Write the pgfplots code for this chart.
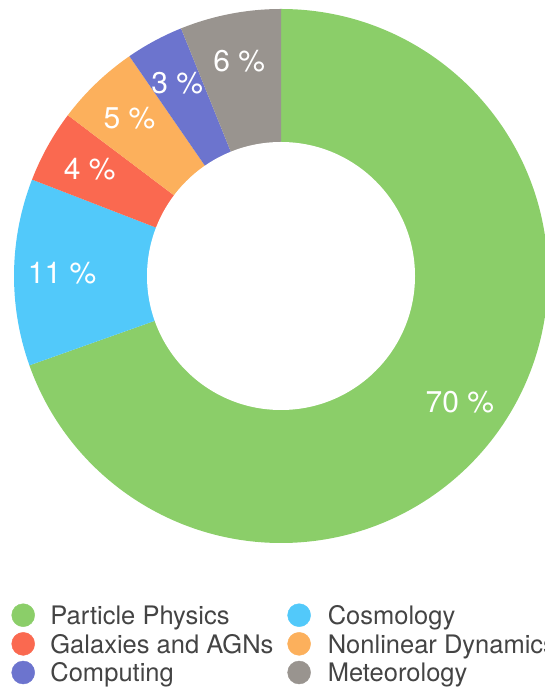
\documentclass[border=0pt]{standalone}
\usepackage{fontspec}
\setmainfont{TeX Gyre Heros}
\usepackage{pgfplots}
\usepackage{pgfplotstable}
\pgfplotsset{compat=1.18}

\definecolor{cPP}{RGB}{139,206,105}
\definecolor{cCos}{RGB}{82,201,250}
\definecolor{cGal}{RGB}{250,105,80}
\definecolor{cNon}{RGB}{252,176,92}
\definecolor{cCom}{RGB}{108,116,206}
\definecolor{cMet}{RGB}{153,148,143}
\definecolor{legtext}{RGB}{68,68,68}

\newcommand\legfont{\fontsize{25.5}{25.5}\selectfont}
\newcommand\labfont{\fontsize{30}{30}\selectfont}

% share (percent), colour, printed label
\pgfplotstableread{
share col lab
69.5 cPP 70
11.3 cCos 11
4.4 cGal 4
5.1 cNon 5
3.5 cCom 3
6.1 cMet 6
}\slices

\begin{document}
\begin{tikzpicture}
\useasboundingbox (0,0) rectangle (545pt,688pt);
\begin{axis}[
  hide axis,
  x=1pt, y=1pt,
  xmin=0, xmax=545, ymin=0, ymax=688,
  at={(0pt,0pt)}, anchor=south west,
  clip=false,
  legend columns=2,
  legend cell align=left,
  legend style={
    at={(0.0211,0.1228)}, anchor=north west,
    draw=none, fill=none, inner sep=0pt, outer sep=0pt,
    row sep=5.25pt,
    font=\legfont, text=legtext,
    nodes={inner sep=0pt, outer sep=0pt},
    /tikz/column 1/.style={column sep=15.5pt},
    /tikz/column 2/.style={column sep=14pt, text height=20pt, text depth=0pt},
    /tikz/column 3/.style={column sep=17pt},
    /tikz/column 4/.style={text height=20pt, text depth=0pt},
  },
]
\pgfplotstablegetrowsof{\slices}
\pgfmathtruncatemacro\N{\pgfplotsretval-1}
\def\tot{0}
\pgfplotsforeachungrouped \i in {0,...,\N}{%
  \pgfplotstablegetelem{\i}{share}\of\slices
  \pgfmathsetmacro\tot{\tot+\pgfplotsretval}%
}
% slices (clockwise from 12 o'clock)
\def\ang{90}
\pgfplotsforeachungrouped \i in {0,...,\N}{%
  \pgfplotstablegetelem{\i}{share}\of\slices \let\slval\pgfplotsretval
  \pgfplotstablegetelem{\i}{col}\of\slices \let\slcol\pgfplotsretval
  \pgfmathsetmacro\endang{\ang-(\slval/\tot)*360}%
  \edef\cmd{\noexpand\fill[\slcol] (axis cs:281,412) -- ++(\ang:267pt)
     arc[start angle=\ang, end angle=\endang, radius=267pt] -- cycle;}%
  \cmd
  \let\ang\endang
}
\fill[white] (axis cs:281,412) circle[radius=134pt];
% labels
\def\ang{90}
\pgfplotsforeachungrouped \i in {0,...,\N}{%
  \pgfplotstablegetelem{\i}{share}\of\slices \let\slval\pgfplotsretval
  \pgfplotstablegetelem{\i}{lab}\of\slices \let\sllab\pgfplotsretval
  \pgfmathsetmacro\endang{\ang-(\slval/\tot)*360}%
  \pgfmathsetmacro\midang{(\ang+\endang)/2}%
  \edef\cmd{\noexpand\node[text=white, font=\noexpand\labfont, inner sep=0pt]
     at ([shift={(\midang:219pt)}]axis cs:281,412) {\sllab\space\noexpand\%};}%
  \cmd
  \let\ang\endang
}
\addlegendimage{legend image code/.code={\fill[cPP] (11.5pt,0pt) circle[radius=11.5pt];}}
\addlegendentry{Particle Physics}
\addlegendimage{legend image code/.code={\fill[cCos] (11.5pt,0pt) circle[radius=11.5pt];}}
\addlegendentry{Cosmology}
\addlegendimage{legend image code/.code={\fill[cGal] (11.5pt,0pt) circle[radius=11.5pt];}}
\addlegendentry{Galaxies and AGNs}
\addlegendimage{legend image code/.code={\fill[cNon] (11.5pt,0pt) circle[radius=11.5pt];}}
\addlegendentry{Nonlinear Dynamics}
\addlegendimage{legend image code/.code={\fill[cCom] (11.5pt,0pt) circle[radius=11.5pt];}}
\addlegendentry{Computing}
\addlegendimage{legend image code/.code={\fill[cMet] (11.5pt,0pt) circle[radius=11.5pt];}}
\addlegendentry{Meteorology}
\end{axis}
\end{tikzpicture}
\end{document}
